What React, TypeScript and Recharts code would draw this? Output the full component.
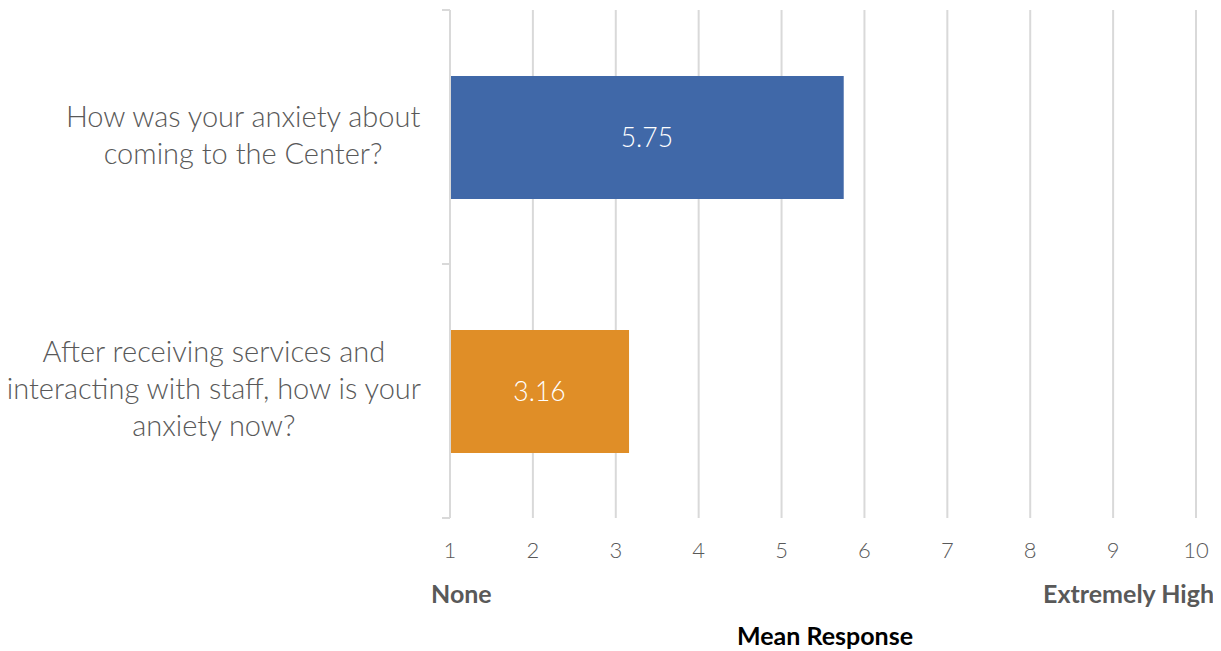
import React from "react";
import { BarChart, Bar, XAxis, YAxis, CartesianGrid, Cell, LabelList, Customized } from "recharts";

const categoryLines: string[][] = [
  ["How was your anxiety about", "coming to the Center?"],
  ["After receiving services and", "interacting with staff, how is your", "anxiety now?"],
];
const categoryKeys = ["before", "after"];
const meanValues = [5.75, 3.16];
const barColors = ["#4068A8", "#E08E27"];
const xTicks = [1, 2, 3, 4, 5, 6, 7, 8, 9, 10];
const scaleLow = "None";
const scaleHigh = "Extremely High";
const axisTitle = "Mean Response";

const data = categoryKeys.map((k, i) => ({ key: k, value: meanValues[i], lines: categoryLines[i] }));

const FONT = "Lato, 'Noto Sans', sans-serif";
const W = 1213;
const H = 643;
const CAT_FONT_SIZE = 29;

let measureCtx: CanvasRenderingContext2D | null = null;
function textWidth(s: string): number {
  if (!measureCtx && typeof document !== "undefined") {
    measureCtx = document.createElement("canvas").getContext("2d");
  }
  if (!measureCtx) return s.length * CAT_FONT_SIZE * 0.45;
  measureCtx.font = `300 ${CAT_FONT_SIZE}px Lato`;
  return measureCtx.measureText(s).width;
}

const YTick = (props: any) => {
  const { x, y, payload, index } = props;
  const lines: string[] = categoryLines[index] || [];
  const lh = 37;
  const half = payload && payload.offset ? payload.offset : 127;
  const axisX = x + 28;
  const startY = y - ((lines.length - 1) * lh) / 2 - 2;
  const maxW = Math.max(...lines.map(textWidth));
  const cx = x - maxW / 2;
  return (
    <g>
      <line x1={axisX - 8} x2={axisX} y1={y - half} y2={y - half} stroke="#d9d9d9" strokeWidth={2} />
      <line x1={axisX - 8} x2={axisX} y1={y + half} y2={y + half} stroke="#d9d9d9" strokeWidth={2} />
      <text x={cx} y={startY} textAnchor="middle" fill="#595959" fontSize={CAT_FONT_SIZE} fontWeight={300} fontFamily={FONT}>
        {lines.map((l, i) => (
          <tspan key={i} x={cx} y={startY + i * lh} dy="0.35em">
            {l}
          </tspan>
        ))}
      </text>
    </g>
  );
};

const BottomLabels = () => (
  <g fontFamily={FONT} fontWeight={700} fontSize={25}>
    <text x={423} y={595} fill="#595959" textAnchor="start">{scaleLow}</text>
    <text x={1206} y={595} fill="#595959" textAnchor="end">{scaleHigh}</text>
    <text x={817} y={637} fill="#000000" textAnchor="middle">{axisTitle}</text>
  </g>
);

export default function App() {
  return (
    <div style={{ width: W, height: H }}>
      <BarChart
        width={W}
        height={H}
        data={data}
        layout="vertical"
        margin={{ top: 2, right: 25, bottom: 93, left: 0 }}
        barSize={123}
      >
        <CartesianGrid horizontal={false} stroke="#d9d9d9" strokeWidth={2} />
        <XAxis
          type="number"
          domain={[1, 10]}
          ticks={xTicks}
          interval={0}
          axisLine={false}
          tickLine={false}
          tickSize={0}
          tickMargin={24}
          height={40}
          tick={{ fill: "#595959", fontSize: 22, fontFamily: FONT, fontWeight: 300 }}
        />
        <YAxis
          type="category"
          dataKey="key"
          width={442}
          axisLine={{ stroke: "#d9d9d9", strokeWidth: 2 }}
          tickLine={false}
          tickSize={0}
          tickMargin={28}
          tick={<YTick />}
        />
        <Bar dataKey="value" isAnimationActive={false}>
          {data.map((d, i) => (
            <Cell key={d.key} fill={barColors[i]} />
          ))}
          <LabelList dataKey="value" position="center" fill="#ffffff" fontSize={26.5} fontFamily={FONT} fontWeight={300} />
        </Bar>
        <Customized component={BottomLabels} />
      </BarChart>
    </div>
  );
}
